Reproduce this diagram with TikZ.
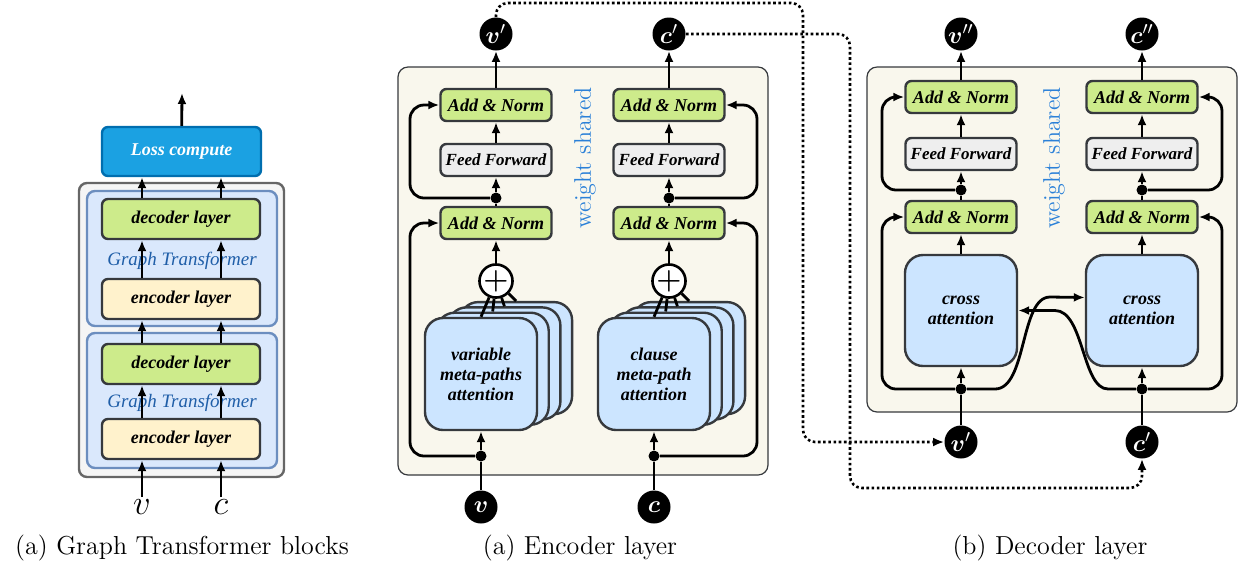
\documentclass[tikz,border=0pt]{standalone}
\usepackage{amsmath}
\usepackage{fontspec}
\newfontfamily\boxfont{Liberation Serif}
\usetikzlibrary{arrows.meta}

\definecolor{lossfill}{HTML}{1BA1E2}
\definecolor{lossline}{HTML}{006EAF}
\definecolor{grayfill}{HTML}{F5F5F5}
\definecolor{grayline}{HTML}{666666}
\definecolor{gtfill}{HTML}{DAE8FC}
\definecolor{gtline}{HTML}{6C8EBF}
\definecolor{gttext}{HTML}{1F5EA8}
\definecolor{greenfill}{HTML}{CDEB8B}
\definecolor{yellowfill}{HTML}{FFF2CC}
\definecolor{fffill}{HTML}{EEEEEE}
\definecolor{attnfill}{HTML}{CCE5FF}
\definecolor{boxline}{HTML}{36393D}
\definecolor{panelfill}{HTML}{F9F7ED}
\definecolor{wstext}{HTML}{2A80D8}

\tikzset{
	link/.style={line width=1.4pt, black},
	arrow/.style={link, -{Latex[length=5.5pt,width=4.5pt]}},
	dotlink/.style={line width=1.3pt, dash pattern=on 1.3pt off 1.3pt, -{Latex[length=5.5pt,width=4.5pt]}},
	layerbox/.style={draw=boxline, line width=1.2pt, rounded corners=3pt, inner sep=0pt, align=center, font=\boxfont\fontsize{9}{10}\selectfont\bfseries\itshape},
	addnorm/.style={layerbox, fill=greenfill, minimum width=55.5pt, minimum height=16pt},
	ffbox/.style={layerbox, fill=fffill, minimum width=55.5pt, minimum height=16pt, font=\boxfont\fontsize{8.5}{10}\selectfont\bfseries\itshape},
	attn/.style={layerbox, fill=attnfill, minimum width=56pt, minimum height=56pt, rounded corners=9pt},
	crossbox/.style={attn, minimum height=55.5pt},
	declayer/.style={layerbox, fill=greenfill, minimum width=79pt, minimum height=20pt},
	enclayer/.style={layerbox, fill=yellowfill, minimum width=79pt, minimum height=20pt},
	lossbox/.style={layerbox, draw=lossline, fill=lossfill, text=white, minimum width=79.5pt, minimum height=24.5pt},
	junction/.style={circle, fill=black, minimum size=5.5pt, inner sep=0pt},
	varnode/.style={circle, fill=black, text=white, minimum size=16.5pt, inner sep=0pt, font=\fontsize{13}{13}\selectfont},
	plusnode/.style={circle, draw, fill=white, line width=1.3pt, minimum size=16pt, inner sep=0pt, font=\fontsize{15}{15}\selectfont},
	graybox/.style={draw=grayline, fill=grayfill, line width=1.2pt, rounded corners=4pt},
	gtpanel/.style={draw=gtline, fill=gtfill, line width=1.2pt, rounded corners=4pt},
	layerpanel/.style={draw=boxline, fill=panelfill, line width=0.6pt, rounded corners=5pt},
	gtlabel/.style={text=gttext, font=\boxfont\fontsize{9.5}{11}\selectfont\itshape},
	wslabel/.style={text=wstext, rotate=90, font=\fontsize{12}{14}\selectfont},
	captext/.style={font=\fontsize{13}{15}\selectfont},
	inlabel/.style={inner sep=1pt, font=\fontsize{16}{16}\selectfont}
}

\begin{document}
\begin{tikzpicture}[x=0.5pt,y=-0.5pt]
	\useasboundingbox (0,0) rectangle (1244,570);

	% (a) Graph Transformer blocks
	\draw[graybox] (79,183) rectangle (284,477);
	\draw[gtpanel] (87,191) rectangle (277,326);
	\draw[gtpanel] (87,333) rectangle (277,468);
	\node[gtlabel] (gtupper) at (182,261) {Graph Transformer};
	\node[gtlabel] (gtlower) at (182,403) {Graph Transformer};
	\node[lossbox] (loss) at (181.5,151.5) {Loss compute};
	\node[declayer] (dec1) at (181,219) {decoder layer};
	\node[enclayer] (enc1) at (181,299) {encoder layer};
	\node[declayer] (dec0) at (181,364) {decoder layer};
	\node[enclayer] (enc0) at (181,439) {encoder layer};
	\node[inlabel] (inv) at (142,507) {$v$};
	\node[inlabel] (inc) at (221,507) {$c$};
	\coordinate (lossout) at (182,93);
	\draw[arrow] (inv) -- (enc0.south -| inv);
	\draw[arrow] (inc) -- (enc0.south -| inc);
	\foreach \a/\b in {enc0/dec0,dec0/enc1,enc1/dec1,dec1/loss}
		\foreach \c in {inv,inc}
			\draw[arrow] (\a.north -| \c) -- (\b.south -| \c);
	\draw[arrow] (loss) -- (lossout);
	\node[captext] (capblocks) at (182,548) {(a) Graph Transformer blocks};

	% (a) Encoder layer
	\draw[layerpanel] (398,67) rectangle (768,475);
	\node[wslabel] (encws) at (585,158) {weight shared};
	\foreach \s/\x/\t in {L/496/v,R/669/c}{
		\node[varnode] (encout\s) at (\x,34) {$\boldsymbol{\t}'$};
		\node[addnorm] (encANtop\s) at (\x,105) {Add \& Norm};
		\node[ffbox] (encFF\s) at (\x,160) {Feed Forward};
		\node[junction] (encdot\s) at (\x,198) {};
		\node[addnorm] (encANbot\s) at (\x,223) {Add \& Norm};
		\node[plusnode] (encplus\s) at (\x,281) {$\boldsymbol{+}$};
		\draw[arrow] (encANtop\s) -- (encout\s);
		\draw[arrow] (encFF\s) -- (encANtop\s);
		\draw[arrow] (encdot\s) -- (encFF\s);
		\draw[link] (encANbot\s) -- (encdot\s);
		\draw[arrow] (encplus\s) -- (encANbot\s);
	}
	% stacked meta-path attention heads
	\foreach \s/\x in {L/481,R/654}
		\foreach \i in {3,2,1}
			\node[attn] (encatt\s\i) at ({\x+11.7*\i},{374-5.3*\i}) {};
	\node[attn] (encattL0) at (481,374) {variable\\meta-paths\\attention};
	\node[attn] (encattR0) at (654,374) {clause\\meta-path\\attention};
	\foreach \s in {L,R}
		\foreach \i in {0,...,3}
			\draw[link] (encplus\s) -- (encatt\s\i.north);
	\foreach \s/\x/\t in {L/481/v,R/654/c}{
		\node[varnode] (encin\s) at (\x,507) {$\boldsymbol{\t}$};
		\node[junction] (encj\s) at (\x,456) {};
		\draw[link] (encin\s) -- (encj\s);
		\draw[arrow] (encj\s) -- (encatt\s0);
	}
	\coordinate (encloopL) at (410,0);
	\coordinate (encloopR) at (757,0);
	\draw[arrow, rounded corners=7pt] (encdotL) -- (encdotL -| encloopL) |- (encANtopL.west);
	\draw[arrow, rounded corners=7pt] (encjL) -- (encjL -| encloopL) |- (encANbotL.west);
	\draw[arrow, rounded corners=7pt] (encdotR) -- (encdotR -| encloopR) |- (encANtopR.east);
	\draw[arrow, rounded corners=7pt] (encjR) -- (encjR -| encloopR) |- (encANbotR.east);
	\node[captext] (capenc) at (580,548) {(a) Encoder layer};

	% (b) Decoder layer
	\draw[layerpanel] (867,67) rectangle (1237,412);
	\node[wslabel] (decws) at (1054,158) {weight shared};
	\foreach \s/\x/\t in {L/961/v,R/1142/c}{
		\node[varnode] (decout\s) at (\x,34) {$\boldsymbol{\t}''$};
		\node[addnorm] (decANtop\s) at (\x,97) {Add \& Norm};
		\node[ffbox] (decFF\s) at (\x,154) {Feed Forward};
		\node[junction] (decdot\s) at (\x,190) {};
		\node[addnorm] (decANbot\s) at (\x,217) {Add \& Norm};
		\node[crossbox] (deccross\s) at (\x,310.5) {cross\\attention};
		\node[junction] (decj\s) at (\x,389) {};
		\node[varnode] (decin\s) at (\x,442) {$\boldsymbol{\t}'$};
		\draw[arrow] (decANtop\s) -- (decout\s);
		\draw[arrow] (decFF\s) -- (decANtop\s);
		\draw[arrow] (decdot\s) -- (decFF\s);
		\draw[link] (decANbot\s) -- (decdot\s);
		\draw[arrow] (deccross\s) -- (decANbot\s);
		\draw[arrow] (decj\s) -- (deccross\s);
		\draw[link] (decin\s) -- (decj\s);
	}
	\coordinate (decloopL) at (882,0);
	\coordinate (decloopR) at (1222,0);
	\draw[arrow, rounded corners=7pt] (decdotL) -- (decdotL -| decloopL) |- (decANtopL.west);
	\draw[arrow, rounded corners=7pt] (decjL) -- (decjL -| decloopL) |- (decANbotL.west);
	\draw[arrow, rounded corners=7pt] (decdotR) -- (decdotR -| decloopR) |- (decANtopR.east);
	\draw[arrow, rounded corners=7pt] (decjR) -- (decjR -| decloopR) |- (decANbotR.east);
	% cross links
	\draw[arrow] (decjL) -- (995,389) .. controls (1027,389) and (1020,297) .. (1050,297) -- ([yshift=6.5pt]deccrossR.west);
	\draw[arrow] (decjR) -- (1108,389) .. controls (1082,389) and (1084,310.5) .. (1055,310.5) -- (deccrossL.east);
	\node[captext] (capdec) at (1050,548) {(b) Decoder layer};

	% encoder outputs feed the decoder
	\coordinate (vtop) at (803,3);
	\coordinate (cbot) at (850,488);
	\draw[dotlink, rounded corners=6pt] (encoutL) |- (vtop) |- (decinL);
	\draw[dotlink, rounded corners=6pt] (encoutR) -| (cbot) -| (decinR);
\end{tikzpicture}
\end{document}
